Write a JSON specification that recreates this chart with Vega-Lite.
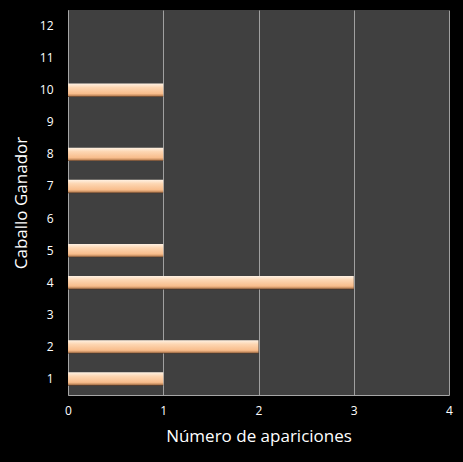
{
  "$schema": "https://vega.github.io/schema/vega-lite/v6.json",
  "autosize": "none",
  "width": 381,
  "height": 385,
  "padding": {"left": 68, "top": 10, "right": 14, "bottom": 67},
  "background": "#000000",
  "config": {
    "view": {"fill": "#404040", "stroke": null},
    "font": "Open Sans"
  },
  "data": {
    "values": [
      {"caballo": "1", "apariciones": 1},
      {"caballo": "2", "apariciones": 2},
      {"caballo": "4", "apariciones": 3},
      {"caballo": "5", "apariciones": 1},
      {"caballo": "7", "apariciones": 1},
      {"caballo": "8", "apariciones": 1},
      {"caballo": "10", "apariciones": 1}
    ]
  },
  "mark": {
    "type": "bar",
    "color": {
      "gradient": "linear",
      "x1": 0, "y1": 0, "x2": 0, "y2": 1,
      "stops": [
        {"offset": 0, "color": "#fff2e4"},
        {"offset": 0.3, "color": "#fdd6b2"},
        {"offset": 0.75, "color": "#f8bd8c"},
        {"offset": 0.9, "color": "#c48a5c"},
        {"offset": 1, "color": "#4a3224"}
      ]
    }
  },
  "encoding": {
    "y": {
      "field": "caballo",
      "type": "ordinal",
      "scale": {
        "domain": ["12", "11", "10", "9", "8", "7", "6", "5", "4", "3", "2", "1"],
        "paddingInner": 0.58,
        "paddingOuter": 0.29
      },
      "axis": {
        "title": "Caballo Ganador",
        "titleColor": "#ffffff",
        "titleFontSize": 17,
        "titleFontWeight": "normal",
        "titlePadding": 9,
        "labelColor": "#ffffff",
        "labelFontSize": 12,
        "labelPadding": 15,
        "ticks": false,
        "domainColor": "#a6a6a6",
        "grid": false
      }
    },
    "x": {
      "field": "apariciones",
      "type": "quantitative",
      "scale": {"domain": [0, 4]},
      "axis": {
        "title": "Número de apariciones",
        "titleColor": "#ffffff",
        "titleFontSize": 17,
        "titleFontWeight": "normal",
        "titlePadding": 12,
        "labelColor": "#ffffff",
        "labelFontSize": 12,
        "labelPadding": 10,
        "tickCount": 4,
        "ticks": false,
        "domainColor": "#a6a6a6",
        "grid": true,
        "gridColor": "#a0a0a0",
        "labelFlush": false
      }
    }
  }
}
